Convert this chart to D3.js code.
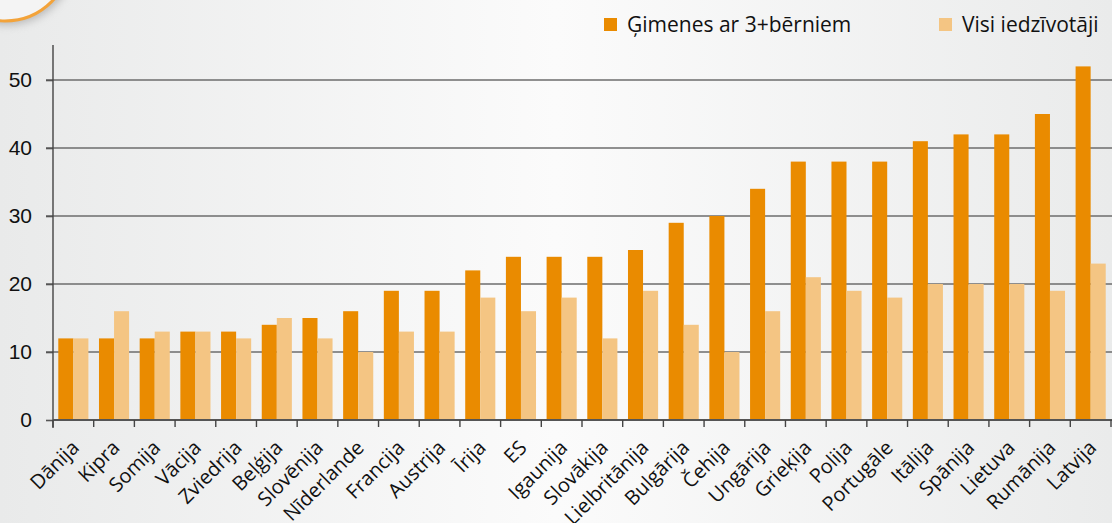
<!DOCTYPE html>
<html>
<head>
<meta charset="utf-8">
<script src="https://cdn.jsdelivr.net/npm/d3@7"></script>
<style>
	body { margin: 0; }
	svg { display: block; font-family: "Open Sans", "Noto Sans", sans-serif; }
</style>
</head>
<body>
<div id="chart"></div>
<script>
// valstis (kategorijas)
const countries = ["Dānija", "Kipra", "Somija", "Vācija", "Zviedrija", "Beļģija", "Slovēnija", "Nīderlande",
	"Francija", "Austrija", "Īrija", "ES", "Igaunija", "Slovākija", "Lielbritānija", "Bulgārija", "Čehija",
	"Ungārija", "Grieķija", "Polija", "Portugāle", "Itālija", "Spānija", "Lietuva", "Rumānija", "Latvija"];
// ģimenes ar 3+ bērniem
const families3 = [12, 12, 12, 13, 13, 14, 15, 16, 19, 19, 22, 24, 24, 24, 25, 29, 30, 34, 38, 38, 38, 41, 42, 42, 45, 52];
// visi iedzīvotāji
const allPeople = [12, 16, 13, 13, 12, 15, 12, 10, 13, 13, 18, 16, 18, 12, 19, 14, 10, 16, 21, 19, 18, 20, 20, 20, 19, 23];
const seriesNames = ["Ģimenes ar 3+bērniem", "Visi iedzīvotāji"];
const seriesColors = ["#ea8b00", "#f4c583"];
const yTicks = [0, 10, 20, 30, 40, 50];

const width = 1112, height = 523;
const plotLeft = 53, plotRight = 1111, plotBottom = 420, plotTop = 46;

const svg = d3.select("#chart").append("svg").attr("width", width).attr("height", height);
const defs = svg.append("defs");

// fons ar gradientu
const grad = defs.append("linearGradient").attr("id", "bg").attr("x1", "0").attr("x2", "1");
grad.append("stop").attr("offset", "0").attr("stop-color", "#e9eaea");
grad.append("stop").attr("offset", "0.5").attr("stop-color", "#fbfbfb");
grad.append("stop").attr("offset", "1").attr("stop-color", "#eaebeb");
svg.append("rect").attr("width", width).attr("height", height).attr("fill", "url(#bg)");

// aplis kreisajā augšējā stūrī
const shadow = defs.append("filter").attr("id", "shadow").attr("x", "-50%").attr("y", "-50%").attr("width", "200%").attr("height", "200%");
shadow.append("feGaussianBlur").attr("stdDeviation", 4);
svg.append("circle").attr("cx", 7).attr("cy", -43).attr("r", 68)
	.attr("fill", "#999").attr("opacity", 0.6).attr("filter", "url(#shadow)");
svg.append("circle").attr("cx", 5).attr("cy", -45).attr("r", 66)
	.attr("fill", "#f4f4f4").attr("stroke", "#f3a33a").attr("stroke-width", 3);
svg.append("circle").attr("cx", -20).attr("cy", -60).attr("r", 26).attr("fill", "#ea8b00");

// skalas
const x0 = d3.scaleBand().domain(countries).range([plotLeft, plotRight]).paddingInner(0.26).paddingOuter(0.13);
const x1 = d3.scaleBand().domain([0, 1]).range([0, x0.bandwidth()]);
const y = d3.scaleLinear().domain([0, 55]).range([plotBottom, plotTop]);

// režģa līnijas
svg.append("g")
	.selectAll("line")
	.data(yTicks.filter(d => d > 0))
	.join("line")
	.attr("x1", plotLeft - 7).attr("x2", plotRight + 1)
	.attr("y1", d => y(d)).attr("y2", d => y(d))
	.attr("stroke", "#6d6d6d").attr("stroke-width", 1.6);

// stabiņi
const groups = svg.append("g")
	.selectAll("g")
	.data(countries)
	.join("g")
	.attr("transform", d => "translate(" + x0(d) + ",0)");

groups.selectAll("rect")
	.data((d, i) => [families3[i], allPeople[i]])
	.join("rect")
	.attr("x", (d, j) => x1(j))
	.attr("width", x1.bandwidth())
	.attr("y", d => y(d))
	.attr("height", d => plotBottom - y(d))
	.attr("fill", (d, j) => seriesColors[j]);

// y ass
const yAxis = svg.append("g")
	.attr("transform", "translate(" + plotLeft + ",0)")
	.call(d3.axisLeft(y).tickValues(yTicks).tickSize(7).tickPadding(14));
yAxis.select(".domain").remove();
yAxis.selectAll("line").attr("stroke", "#555").attr("stroke-width", 1.6);
yAxis.selectAll("text").attr("font-size", 21).attr("fill", "#111");
svg.append("line").attr("x1", plotLeft).attr("x2", plotLeft).attr("y1", plotTop - 1).attr("y2", plotBottom + 8)
	.attr("stroke", "#444").attr("stroke-width", 1.4);

// x ass
svg.append("line").attr("x1", plotLeft).attr("x2", plotRight + 1).attr("y1", plotBottom).attr("y2", plotBottom)
	.attr("stroke", "#555").attr("stroke-width", 1.8);
const gap = (x0.step() - x0.bandwidth()) / 2;
svg.append("g")
	.selectAll("line")
	.data(countries)
	.join("line")
	.attr("x1", d => x0(d) - gap)
	.attr("x2", d => x0(d) - gap)
	.attr("y1", plotBottom).attr("y2", plotBottom + 7)
	.attr("stroke", "#444").attr("stroke-width", 1.4);
svg.append("line").attr("x1", plotRight).attr("x2", plotRight).attr("y1", plotBottom).attr("y2", plotBottom + 7)
	.attr("stroke", "#444").attr("stroke-width", 1.4);

svg.append("g")
	.selectAll("text")
	.data(countries)
	.join("text")
	.attr("transform", d => "translate(" + (x0(d) + x0.bandwidth() / 2 + 2) + "," + (plotBottom + 24) + ") rotate(-45)")
	.attr("text-anchor", "end")
	.attr("dy", "0.35em")
	.attr("font-size", 20)
	.attr("fill", "#111")
	.text(d => d);

// leģenda
const legendX = [604, 939];
const legend = svg.append("g")
	.selectAll("g")
	.data(seriesNames)
	.join("g")
	.attr("transform", (d, i) => "translate(" + legendX[i] + ",18)");
legend.append("rect").attr("width", 13).attr("height", 13).attr("fill", (d, i) => seriesColors[i]);
legend.append("text").attr("x", 23).attr("y", 7).attr("dy", "0.35em")
	.attr("font-size", 21).attr("fill", "#111").text(d => d);
</script>
</body>
</html>
